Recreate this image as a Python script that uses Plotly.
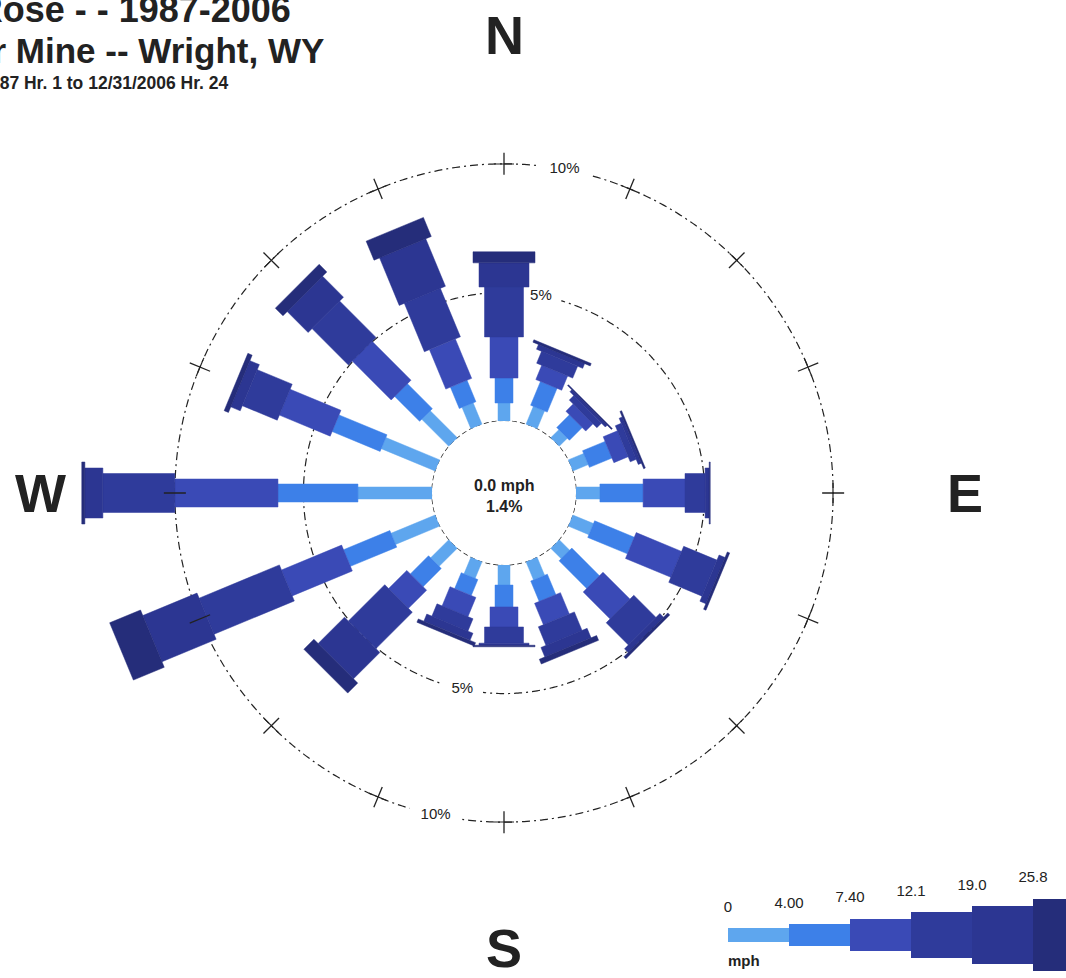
import math
import numpy as np
import plotly.graph_objects as go

# ---------------- data ----------------
directions = ["N", "NNE", "NE", "ENE", "E", "ESE", "SE", "SSE",
              "S", "SSW", "SW", "WSW", "W", "WNW", "NW", "NNW"]
dir_angles = [i * 22.5 for i in range(16)]
speed_bins = ["0", "4.00", "7.40", "12.1", "19.0", "25.8"]
calm_label = "0.0 mph"
calm_pct = 1.4

# frequency (%) per direction for each wind-speed class (mph)
pct_0_4    = [0.70, 0.75, 0.45, 0.65, 0.93, 0.87, 0.58, 0.76, 0.78, 0.70, 1.00, 1.86, 2.88, 2.27, 1.49, 0.90]
pct_4_74   = [0.97, 1.00, 0.70, 0.95, 1.68, 1.67, 1.52, 0.86, 0.85, 0.67, 1.00, 1.95, 3.11, 2.02, 1.37, 0.90]
pct_74_121 = [1.60, 0.60, 0.40, 0.60, 1.63, 1.91, 1.48, 0.90, 0.78, 0.81, 1.00, 2.53, 4.01, 2.14, 2.14, 1.66]
pct_121_19 = [1.94, 0.50, 0.25, 0.25, 0.78, 1.40, 1.22, 0.78, 0.63, 0.52, 2.00, 3.38, 2.80, 1.47, 2.00, 2.04]
pct_19_258 = [0.94, 0.20, 0.10, 0.13, 0.16, 0.25, 0.20, 0.40, 0.08, 0.30, 1.45, 2.28, 0.70, 0.40, 1.15, 2.00]
pct_258_up = [0.43, 0.10, 0.05, 0.07, 0.04, 0.10, 0.11, 0.20, 0.06, 0.14, 0.55, 1.30, 0.12, 0.18, 0.42, 0.80]
speed_classes = [pct_0_4, pct_4_74, pct_74_121, pct_121_19, pct_19_258, pct_258_up]

ring_values = [5, 10]
ring_labels = ["5%", "10%"]
compass_text = ["N", "E", "S", "W"]

title_lines = ["Wind Rose - - 1987-2006",
               "Black Thunder Mine -- Wright, WY",
               "1/1/1987 Hr. 1 to 12/31/2006 Hr. 24"]

# ---------------- style ----------------
class_colors = ["#5ea6ee", "#3d80e8", "#3a4ab6", "#2f3b9b", "#2c3692", "#252d7a"]
class_width_px = [12, 18, 28, 39, 50, 62]      # bar thickness per class on the rose
legend_scale = 1.17                            # legend bar thickness relative to rose
INK = "#222222"
FONT = "Liberation Sans, Arial, sans-serif"

W, H = 1066, 978
CX, CY = 504, 493          # rose centre (px)
R_OUT = 432                # outer radius of polar area (px)
HOLE_PX = 72               # calm circle radius (px)
R_MAX = 14                 # radial axis maximum (%)
K = (R_OUT - HOLE_PX) / R_MAX   # px per percent
COMPASS_R = [458, 461, 455, 464]   # distance of compass letters from centre (px)

dom_x = [(CX - R_OUT) / W, (CX + R_OUT) / W]
dom_y = [(H - CY - R_OUT) / H, (H - CY + R_OUT) / H]


def rect_polygon(theta, r0, r1, half_w):
    """Rectangle of constant pixel thickness from r0 to r1 along direction theta."""
    rs, ts = [], []
    for D, s in [(HOLE_PX + r0 * K, -1), (HOLE_PX + r1 * K, -1),
                 (HOLE_PX + r1 * K, 1), (HOLE_PX + r0 * K, 1), (HOLE_PX + r0 * K, -1)]:
        rr = math.hypot(D, half_w)
        rs.append((rr - HOLE_PX) / K)
        ts.append(theta + s * math.degrees(math.atan2(half_w, D)))
    return rs, ts


fig = go.Figure()

# rings (calm circle, 5 %, 10 %)
full = np.arange(0, 360.5, 0.5)
fig.add_trace(go.Scatterpolar(r=[0] * len(full), theta=full, mode="lines",
                              line=dict(color=INK, width=1.3, dash="5px,3px"),
                              hoverinfo="skip", showlegend=False))
for rv in ring_values:
    fig.add_trace(go.Scatterpolar(r=[rv] * len(full), theta=full, mode="lines",
                                  line=dict(color=INK, width=1.2, dash="8px,4px,2px,4px"),
                                  hoverinfo="skip", showlegend=False))

# tangential part of the crosses on the 10 % ring
tr, tt = [], []
for a in dir_angles:
    d = math.degrees(10 / (HOLE_PX + 10 * K))
    tr += [10, 10, None]
    tt += [a - d, a + d, None]
fig.add_trace(go.Scatterpolar(r=tr, theta=tt, mode="lines",
                              line=dict(color=INK, width=1.2),
                              hoverinfo="skip", showlegend=False))

# white gaps under ring labels
label_angles = [10.6, 192.0]
for rv, lab in zip(ring_values, ring_labels):
    rpx = HOLE_PX + rv * K
    hw = 9 + 6 * len(lab)
    for la in label_angles:
        d = math.degrees(hw / rpx)
        th = np.linspace(la - d, la + d, 12)
        fig.add_trace(go.Scatterpolar(r=[rv] * len(th), theta=th, mode="lines",
                                      line=dict(color="white", width=6),
                                      hoverinfo="skip", showlegend=False))

# stacked bars
cum = [0.0] * len(directions)
for ci, vals in enumerate(speed_classes):
    rr, tt = [], []
    for di, a in enumerate(dir_angles):
        r0 = cum[di]
        r1 = r0 + vals[di]
        pr, pt = rect_polygon(a, r0, r1, class_width_px[ci] / 2)
        rr += pr + [None]
        tt += pt + [None]
        cum[di] = r1
    fig.add_trace(go.Scatterpolar(r=rr, theta=tt, mode="lines", fill="toself",
                                  fillcolor=class_colors[ci],
                                  line=dict(color=class_colors[ci], width=0.5),
                                  hoverinfo="skip", showlegend=False))

# radial part of the crosses on the 10 % ring (drawn on top)
rr, tt = [], []
dr = 11 / K
for a in dir_angles:
    rr += [10 - dr, 10 + dr, None]
    tt += [a, a, None]
fig.add_trace(go.Scatterpolar(r=rr, theta=tt, mode="lines",
                              line=dict(color=INK, width=1.3),
                              hoverinfo="skip", showlegend=False))

# ring labels
lr, lt, ls = [], [], []
for rv, lab in zip(ring_values, ring_labels):
    for la in label_angles:
        lr.append(rv); lt.append(la); ls.append(lab)
fig.add_trace(go.Scatterpolar(r=lr, theta=lt, mode="text", text=ls,
                              textfont=dict(size=15, color=INK, family=FONT),
                              hoverinfo="skip", showlegend=False))

# ---------------- legend key (speed classes) ----------------
seg_px = 61
leg_left = 728
leg_heights = [w * legend_scale for w in class_width_px]
leg_center_from_bottom = 43
leg_dom_h = 110
fig.add_trace(go.Bar(x=list(range(len(speed_bins))), y=leg_heights,
                     base=[-h / 2 for h in leg_heights], width=1.0,
                     marker=dict(color=class_colors, line=dict(width=0)),
                     xaxis="x2", yaxis="y2", hoverinfo="skip", showlegend=False))
fig.add_trace(go.Scatter(x=[i - 0.5 for i in range(len(speed_bins))],
                         y=[h / 2 + 20 for h in leg_heights],
                         mode="text", text=speed_bins, cliponaxis=False,
                         textfont=dict(size=15, color=INK, family=FONT),
                         xaxis="x2", yaxis="y2", hoverinfo="skip", showlegend=False))
fig.add_trace(go.Scatter(x=[-0.5], y=[-leg_heights[0] / 2 - 20], mode="text",
                         text=["mph"], textposition="middle right", cliponaxis=False,
                         textfont=dict(size=15, color=INK, family=FONT, weight="bold"),
                         xaxis="x2", yaxis="y2", hoverinfo="skip", showlegend=False))

# ---------------- layout ----------------
pcx = (dom_x[0] + dom_x[1]) / 2
pcy = (dom_y[0] + dom_y[1]) / 2
annotations = [
    dict(text=calm_label + "<br>" + f"{calm_pct:.1f}%", x=pcx, y=pcy,
         xref="paper", yref="paper", showarrow=False, yshift=-3,
         font=dict(size=16, color=INK, family=FONT, weight="bold")),
    dict(text=title_lines[0], x=293 / W, y=1 - 10 / H, xref="paper", yref="paper",
         xanchor="right", yanchor="middle", showarrow=False,
         font=dict(size=36, color=INK, family=FONT, weight="bold")),
    dict(text=title_lines[1], x=326 / W, y=1 - 50 / H, xref="paper", yref="paper",
         xanchor="right", yanchor="middle", showarrow=False,
         font=dict(size=35, color=INK, family=FONT, weight="bold")),
    dict(text=title_lines[2], x=231 / W, y=1 - 83 / H, xref="paper", yref="paper",
         xanchor="right", yanchor="middle", showarrow=False,
         font=dict(size=17.5, color=INK, family=FONT, weight="bold")),
]
for lab, ang, cr in zip(compass_text, [0, 90, 180, 270], COMPASS_R):
    dx = cr * math.sin(math.radians(ang)) / W
    dy = cr * math.cos(math.radians(ang)) / H
    annotations.append(dict(text=lab, x=pcx + dx, y=pcy + dy, xref="paper", yref="paper",
                            xanchor="center", yanchor="middle", showarrow=False,
                            font=dict(size=54, color=INK, family=FONT, weight="bold")))

fig.update_layout(
    width=W, height=H,
    margin=dict(l=0, r=0, t=0, b=0),
    paper_bgcolor="white", plot_bgcolor="white",
    showlegend=False,
    polar=dict(
        domain=dict(x=dom_x, y=dom_y),
        hole=HOLE_PX / R_OUT,
        bgcolor="white",
        radialaxis=dict(range=[0, R_MAX], visible=False),
        angularaxis=dict(rotation=90, direction="clockwise", showticklabels=False,
                         showgrid=False, showline=False, ticks=""),
    ),
    xaxis2=dict(domain=[leg_left / W, 1.0],
                range=[-0.5, -0.5 + (W - leg_left) / seg_px],
                visible=False, fixedrange=True),
    yaxis2=dict(domain=[0, leg_dom_h / H],
                range=[-leg_center_from_bottom, leg_dom_h - leg_center_from_bottom],
                visible=False, fixedrange=True),
    bargap=0,
    annotations=annotations,
)

fig.write_html("out.html", config={"displayModeBar": False},
               post_script="document.body.style.margin='0';document.body.style.overflow='hidden';")
